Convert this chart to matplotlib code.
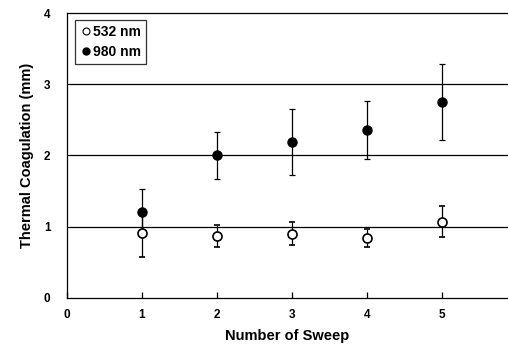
import matplotlib
matplotlib.use("Agg")
import matplotlib.pyplot as plt
from matplotlib.lines import Line2D

sweeps = [1, 2, 3, 4, 5]
nm532 = [0.91, 0.87, 0.90, 0.84, 1.07]
err532 = [0.33, 0.15, 0.16, 0.13, 0.22]
nm980 = [1.20, 2.00, 2.19, 2.36, 2.75]
err980 = [0.33, 0.33, 0.46, 0.41, 0.53]
xticks = [0, 1, 2, 3, 4, 5]
yticks = [0, 1, 2, 3, 4]

plt.rcParams['font.family'] = ['Liberation Sans', 'DejaVu Sans']
fig = plt.figure(figsize=(5.08, 3.53), dpi=100)
ax = fig.add_axes([0.132, 0.156, 0.868, 0.807])

for yv in [1, 2, 3]:
    ax.axhline(yv, color='black', lw=0.9, zorder=1)

ax.errorbar(sweeps, nm532, yerr=err532, fmt='o', mfc='white', mec='black', mew=1.2,
            ms=6.5, ecolor='black', elinewidth=0.9, capsize=2.5, capthick=0.9, zorder=3)
ax.errorbar(sweeps, nm980, yerr=err980, fmt='o', mfc='black', mec='black',
            ms=6.5, ecolor='black', elinewidth=0.9, capsize=2.5, capthick=0.9, zorder=3)

ax.set_xlim(0, 5.88)
ax.set_ylim(0, 4)
ax.set_xticks(xticks)
ax.set_yticks(yticks)
ax.tick_params(axis='x', direction='in', length=4, width=0.9, labelsize=8.5, pad=8)
ax.tick_params(axis='y', length=0, labelsize=8.5, pad=12)
for lbl in ax.get_xticklabels() + ax.get_yticklabels():
    lbl.set_fontweight('bold')
ax.spines['right'].set_visible(False)
for s in ['left', 'bottom', 'top']:
    ax.spines[s].set_linewidth(0.9)

ax.set_xlabel('Number of Sweep', fontsize=10.5, fontweight='bold', labelpad=6)
ax.set_ylabel('Thermal Coagulation (mm)', fontsize=10.5, fontweight='bold', labelpad=7)

handles = [
    Line2D([], [], ls='none', marker='o', mfc='white', mec='black', mew=0.8, ms=5, label='532 nm'),
    Line2D([], [], ls='none', marker='o', mfc='black', mec='black', ms=5, label='980 nm'),
]
leg = ax.legend(handles=handles, loc='upper left', bbox_to_anchor=(0.017, 0.975), frameon=True,
                fancybox=False, edgecolor='black', handletextpad=0.0, handlelength=1.0,
                borderpad=0.35, borderaxespad=0.0, prop={'weight': 'bold', 'size': 10},
                labelspacing=0.45)
leg.get_frame().set_linewidth(0.9)

fig.savefig('out.png', dpi=100)
